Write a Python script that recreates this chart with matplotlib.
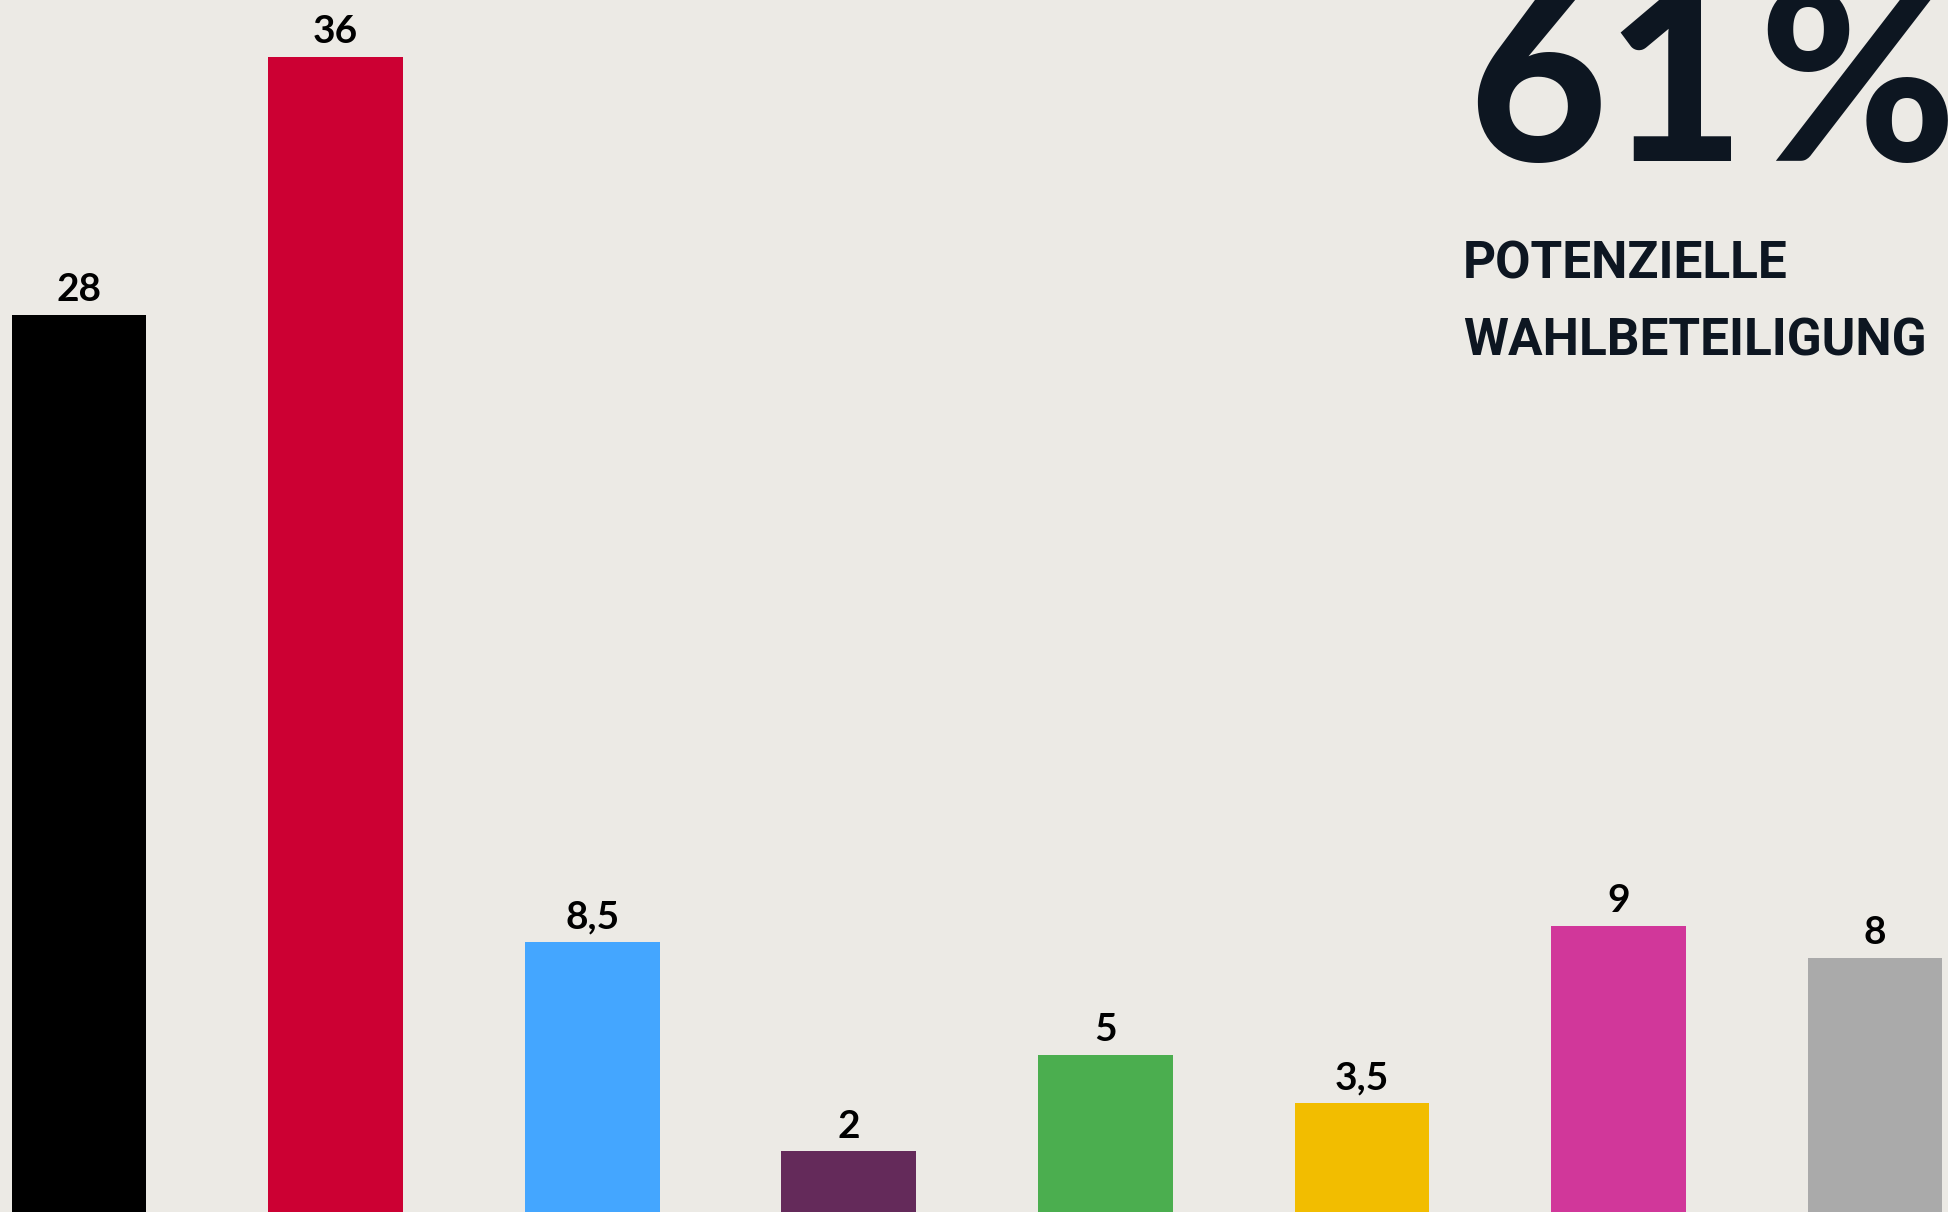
import matplotlib
matplotlib.use('Agg')
from matplotlib import pyplot as plt

# Umfragewerte in Prozent
parties = ['CDU', 'SPD', 'FDP', 'Linke', 'Grüne', 'Freie Wähler', 'AfD', 'Sonstige']
values = [28, 36, 8.5, 2, 5, 3.5, 9, 8]
value_labels = ['28', '36', '8,5', '2', '5', '3,5', '9', '8']
colors = ['#000000', '#CC0033', '#44A6FF', '#642A5A', '#4BAE4F', '#F2BD00', '#D1379A', '#AAAAAA']

turnout_value = '61'
turnout_unit = '%'
turnout_label = ['POTENZIELLE', 'WAHLBETEILIGUNG']

bg = '#ECEAE5'
navy = '#0D1621'

W, H = 1948, 1212
fig = plt.figure(figsize=(W / 100, H / 100), dpi=100, facecolor=bg)
ax = fig.add_axes([0, 0, 1, 1])
ax.set_facecolor(bg)

x = range(len(values))
bars = ax.bar(x, values, width=0.525, color=colors)
ax.set_xlim(-0.308, 7.284)
ax.set_ylim(0.12, 37.77)
ax.axis('off')

for xi, v, lab in zip(x, values, value_labels):
    ax.annotate(lab, (xi, v), xytext=(0, 10), textcoords='offset points',
                ha='center', va='baseline', fontsize=28, fontweight='bold',
                family=['Lato', 'DejaVu Sans'], color='black')

# grosse Kennzahl oben rechts
big = dict(ha='left', va='baseline', fontsize=172, fontweight='black',
           color=navy, family=['Lato', 'DejaVu Sans'])
fig.text(1468 / W, 1 - 161 / H, turnout_value, **big)
fig.text(1758 / W, 1 - 161 / H, turnout_unit, **big)

for i, line in enumerate(turnout_label):
    fig.text(1463 / W, 1 - (278 + 77 * i) / H, line, ha='left', va='baseline',
             fontsize=37, fontweight='bold', color=navy,
             family=['Roboto', 'DejaVu Sans'])

fig.savefig('out.png', dpi=100, facecolor=bg)
